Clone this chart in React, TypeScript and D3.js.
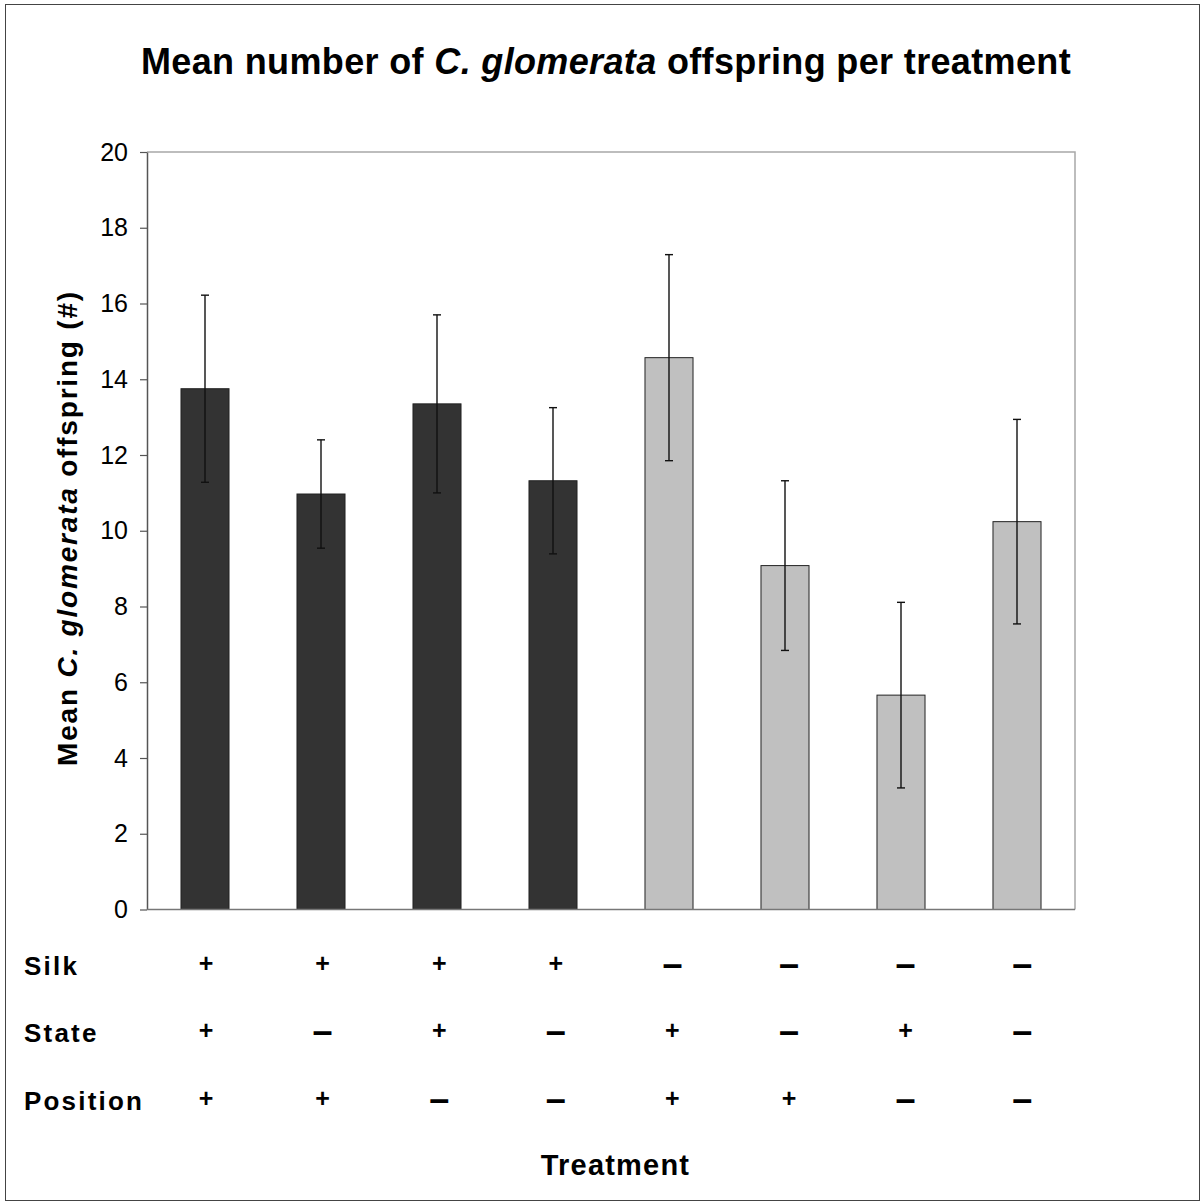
import React, { useEffect, useRef } from "react";
import * as d3 from "d3";

// treatment factors per bar
const silk = ["+", "+", "+", "+", "–", "–", "–", "–"];
const state = ["+", "–", "+", "–", "+", "–", "+", "–"];
const position = ["+", "+", "–", "–", "+", "+", "–", "–"];

// mean offspring and error (symmetric)
const means = [13.75, 10.97, 13.35, 11.32, 14.57, 9.08, 5.66, 10.24];
const errors = [2.47, 1.43, 2.35, 1.93, 2.72, 2.24, 2.45, 2.7];

const yTicks = [0, 2, 4, 6, 8, 10, 12, 14, 16, 18, 20];
const rowNames = ["Silk", "State", "Position"];

export default function App() {
  const svgRef = useRef<SVGSVGElement>(null);

  useEffect(() => {
    const W = 1203;
    const H = 1204;
    const left = 147;
    const right = 1075;
    const top = 152;
    const bottom = 909.5;
    const font = "'Liberation Sans', Arial, sans-serif";

    const svg = d3.select(svgRef.current);
    svg.selectAll("*").remove();
    svg.attr("width", W).attr("height", H);

    svg.append("rect").attr("width", W).attr("height", H).attr("fill", "#fff");

    // outer frame
    svg
      .append("rect")
      .attr("x", 5.5)
      .attr("y", 4.5)
      .attr("width", 1194)
      .attr("height", 1196)
      .attr("fill", "none")
      .attr("stroke", "#444")
      .attr("stroke-width", 1);

    const x = d3
      .scaleBand<number>()
      .domain(means.map((_, i) => i))
      .range([left, right])
      .paddingInner(0.586)
      .paddingOuter(0.293);
    const cx = (i: number) => x(i)! + x.bandwidth() / 2;

    const y = d3.scaleLinear().domain([0, 20]).range([bottom, top]);

    // plot frame top/right
    svg
      .append("path")
      .attr("d", `M${left},${top}H${right}V${bottom}`)
      .attr("fill", "none")
      .attr("stroke", "#a8a8a8")
      .attr("stroke-width", 1.5);

    // y axis
    const yAxis = d3
      .axisLeft(y)
      .tickValues(yTicks)
      .tickSize(7)
      .tickPadding(12)
      .tickSizeOuter(0);
    const gy = svg
      .append("g")
      .attr("transform", `translate(${left},0)`)
      .call(yAxis);
    gy.select(".domain").attr("stroke", "#555").attr("stroke-width", 1.5);
    gy.selectAll(".tick line").attr("stroke", "#555").attr("stroke-width", 1.2);
    gy.selectAll(".tick text")
      .attr("font-family", font)
      .attr("font-size", 25)
      .attr("fill", "#000");

    // bars
    svg
      .selectAll(".bar")
      .data(means)
      .join("rect")
      .attr("class", "bar")
      .attr("x", (_, i) => x(i)!)
      .attr("y", (d) => y(d))
      .attr("width", x.bandwidth())
      .attr("height", (d) => y(0) - y(d))
      .attr("fill", (_, i) => (silk[i] === "+" ? "#333333" : "#c0c0c0"))
      .attr("stroke", "#222")
      .attr("stroke-width", 1);

    // x axis line
    svg
      .append("line")
      .attr("x1", left)
      .attr("x2", right)
      .attr("y1", bottom)
      .attr("y2", bottom)
      .attr("stroke", "#777")
      .attr("stroke-width", 1.5);

    // error bars
    const eb = svg
      .selectAll(".err")
      .data(means)
      .join("g")
      .attr("class", "err")
      .attr("stroke", "#111")
      .attr("stroke-width", 1.4);
    eb.append("line")
      .attr("x1", (_, i) => cx(i))
      .attr("x2", (_, i) => cx(i))
      .attr("y1", (d, i) => y(d + errors[i]))
      .attr("y2", (d, i) => y(d - errors[i]));
    eb.append("line")
      .attr("x1", (_, i) => cx(i) - 4)
      .attr("x2", (_, i) => cx(i) + 4)
      .attr("y1", (d, i) => y(d + errors[i]))
      .attr("y2", (d, i) => y(d + errors[i]));
    eb.append("line")
      .attr("x1", (_, i) => cx(i) - 4)
      .attr("x2", (_, i) => cx(i) + 4)
      .attr("y1", (d, i) => y(d - errors[i]))
      .attr("y2", (d, i) => y(d - errors[i]));

    // title
    const title = svg
      .append("text")
      .attr("x", 606)
      .attr("y", 74)
      .attr("text-anchor", "middle")
      .attr("font-family", font)
      .attr("font-weight", "bold")
      .attr("font-size", 36)
      .attr("letter-spacing", 0.35);
    title.append("tspan").text("Mean number of ");
    title.append("tspan").attr("font-style", "italic").text("C. glomerata");
    title.append("tspan").text(" offspring per treatment");

    // y label
    const yl = svg
      .append("text")
      .attr("transform", `translate(77,528) rotate(-90)`)
      .attr("text-anchor", "middle")
      .attr("font-family", font)
      .attr("font-weight", "bold")
      .attr("font-size", 28)
      .attr("letter-spacing", 1.8);
    yl.append("tspan").text("Mean ");
    yl.append("tspan").attr("font-style", "italic").text("C. glomerata");
    yl.append("tspan").text(" offspring (#)");

    // treatment table
    const rows = [silk, state, position];
    const rowY = [975, 1041.5, 1110];
    rows.forEach((row, r) => {
      svg
        .append("text")
        .attr("x", 24)
        .attr("y", rowY[r])
        .attr("font-family", font)
        .attr("font-weight", "bold")
        .attr("font-size", 26)
        .attr("letter-spacing", 2.2)
        .text(rowNames[r]);
      svg
        .selectAll(`.sym${r}`)
        .data(row)
        .join("text")
        .attr("class", `sym${r}`)
        .attr("x", (_, i) => cx(i) + 1 + i * 0.6)
        .attr("y", (d) => (d === "+" ? rowY[r] - 3 : rowY[r] + 1))
        .attr("text-anchor", "middle")
        .attr("font-family", font)
        .attr("font-weight", "bold")
        .attr("font-size", (d) => (d === "+" ? 25 : 36))
        .text((d) => d);
    });

    svg
      .append("text")
      .attr("x", 615.5)
      .attr("y", 1175)
      .attr("text-anchor", "middle")
      .attr("font-family", font)
      .attr("font-weight", "bold")
      .attr("font-size", 29)
      .attr("letter-spacing", 1.2)
      .text("Treatment");
  }, []);

  return (
    <div>
      <svg
        ref={svgRef}
        style={{ position: "absolute", left: 0, top: 0, display: "block" }}
      ></svg>
    </div>
  );
}
